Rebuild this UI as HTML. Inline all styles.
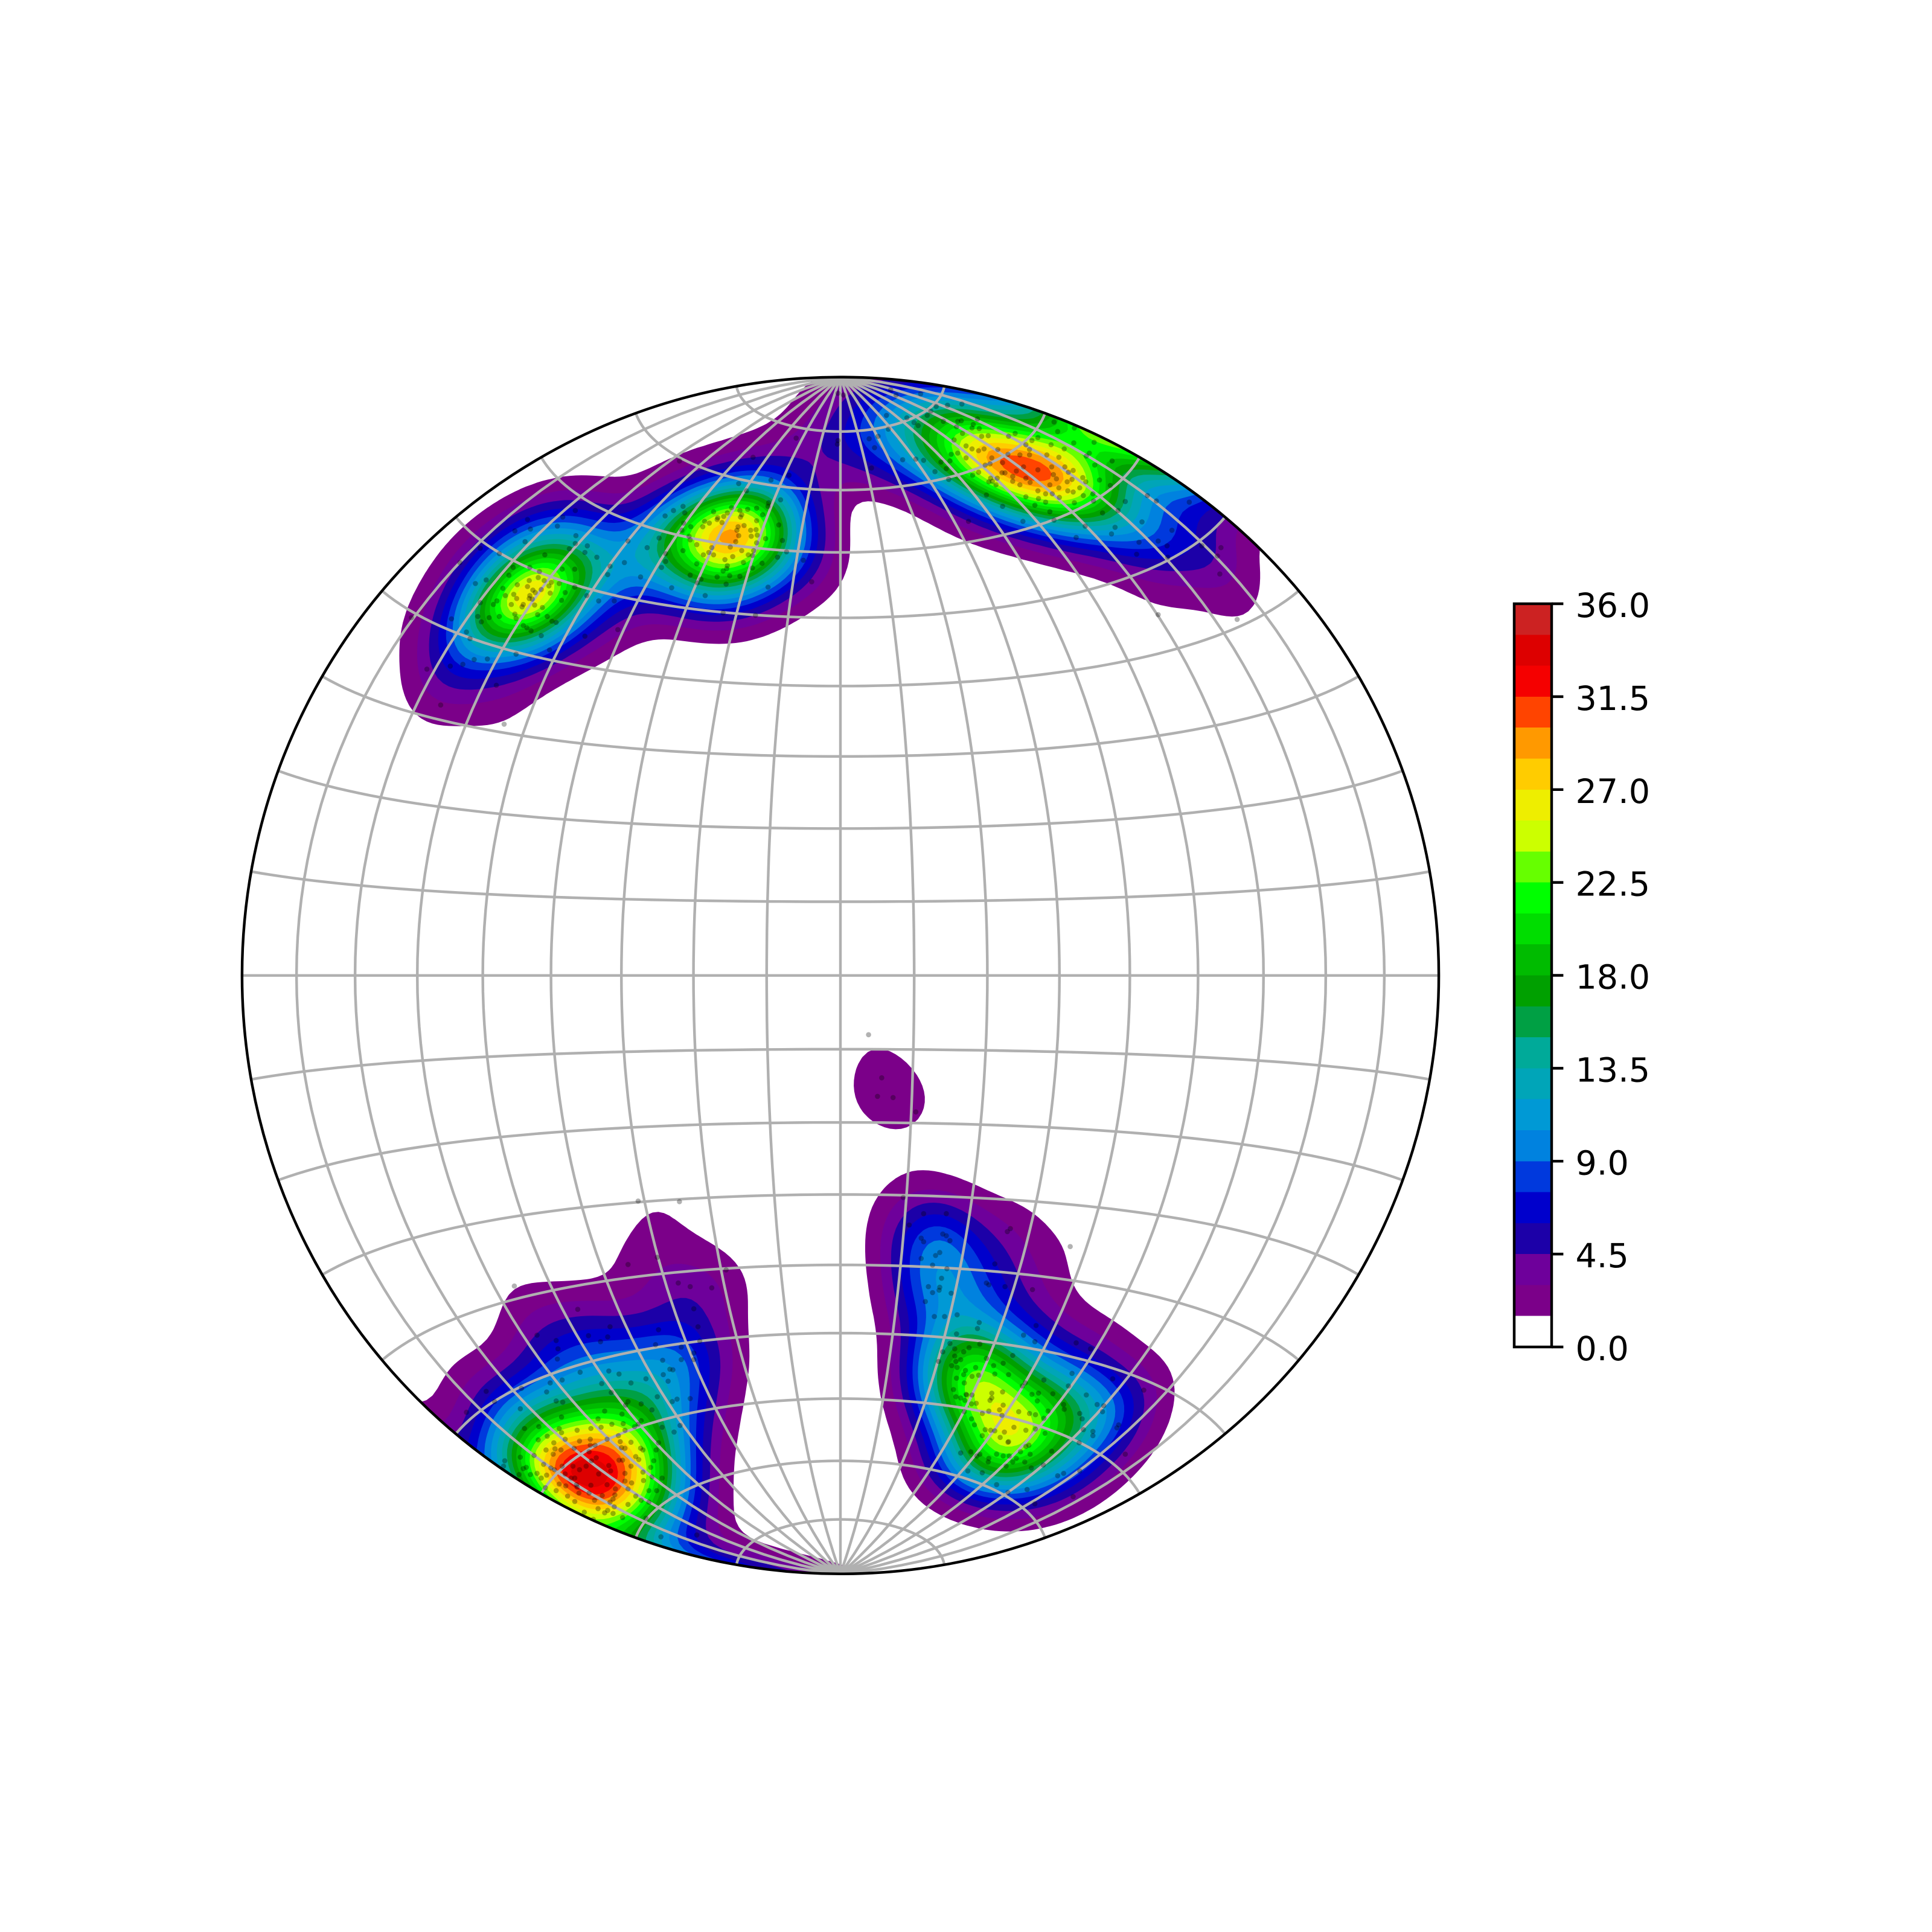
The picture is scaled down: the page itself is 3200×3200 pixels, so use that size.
<!DOCTYPE html>
<html lang="en">
<head>
<meta charset="utf-8">
<title>Stereonet density plot</title>
<style>
html,body{margin:0;padding:0;background:#fff;}
svg{display:block;}
text{font-family:"DejaVu Sans","Liberation Sans",sans-serif;font-size:55.5px;fill:#000;}
</style>
</head>
<body>
<svg id="chart" xmlns="http://www.w3.org/2000/svg" width="3200" height="3200" viewBox="0 0 3200 3200">
<defs><clipPath id="net-clip"><circle cx="1392" cy="1615.7" r="991.1"></circle></clipPath></defs>
<rect width="3200" height="3200" fill="#fff"></rect>
<g id="contours" clip-path="url(#net-clip)"></g>
<g id="grid" fill="none" stroke="#b0b0b0" stroke-width="4.44" clip-path="url(#net-clip)"></g>
<g id="poles" clip-path="url(#net-clip)"></g>
<circle cx="1392" cy="1615.7" r="991.1" fill="none" stroke="#000" stroke-width="4.44"></circle>
<g id="colorbar"></g>
</svg>
<script>
// Density levels and colour bar
const levels = [0,1.5,3,4.5,6,7.5,9,10.5,12,13.5,15,16.5,18,19.5,21,22.5,24,25.5,27,28.5,30,31.5,33,34.5,36];
const bandColors = ['#ffffff','#7b0089','#6e009b','#1c00a8','#0000cc','#0039dd','#0082df','#0099d5','#00a5b8','#00aa99','#00a044','#00a000','#00bb00','#00dd00','#00ff00','#66ff00','#ccff00','#eeee00','#ffcc00','#ff9900','#ff4400','#f50000','#dd0000','#cc2222'];
const colorbarTicks = [0,4.5,9,13.5,18,22.5,27,31.5,36];
const colorbarTickLabels = ['0.0','4.5','9.0','13.5','18.0','22.5','27.0','31.5','36.0'];
const meridianDegrees = [-80,-70,-60,-50,-40,-30,-20,-10,0,10,20,30,40,50,60,70,80];
const parallelDegrees = [-80,-70,-60,-50,-40,-30,-20,-10,0,10,20,30,40,50,60,70,80];
const kernelSigma = 3;
const sourcePoleCount = 760;
// Poles in net coordinates (east, north), net radius = 1
const polePoints = [
[-.004,.973],[.005,.97],
[-.540,.653],[-.523,.650],[-.514,.644],[-.495,.660],[-.483,.657],[-.487,.651],[-.546,.637],[-.519,.635],[-.541,.630],[-.515,.629],[-.485,.639],[-.532,.616],[-.511,.619],[-.498,.615],[-.506,.603],[-.544,.604],[-.542,.597],[-.587,.598],[-.600,.591],[-.606,.600],[-.524,.581],[-.517,.576],[-.482,.592],[-.475,.590],[-.500,.568],[-.574,.626],[-.602,.623],[-.564,.647],[-.554,.669],[-.547,.682],[-.519,.682],[-.503,.675],[-.465,.679],[-.444,.679],[-.494,.703],[-.444,.649],[-.466,.627],[-.424,.635],[-.404,.626],[-.378,.626],[-.453,.713],[-.443,.722],[-.423,.718],[-.427,.707],[-.407,.699],[-.442,.735],[-.473,.751],[-.518,.746],[-.544,.743],[-.527,.725],[-.570,.705],[-.592,.661],[-.610,.655],[-.650,.596],[-.625,.574],[-.619,.563],[-.612,.528],[-.590,.529],[-.542,.537],[-.631,.520],[-.652,.517],[-.691,.512],[-.668,.452],[-.575,.485],[-.427,.567],[-.372,.578],[-.486,.544],[-.717,.598],[-.636,.690],[-.602,.714],[-.523,.762],[-.443,.777],[-.464,.766],[-.562,.420],
[-.51,.64],[-.55,.62],[-.56,.635],[-.505,.665],[-.47,.655],[-.52,.66],[-.57,.60],[-.53,.585],[-.49,.60],[-.46,.64],[-.58,.62],[-.52,.63],[-.50,.645],[-.53,.62],
[-.182,.782],[-.168,.777],[-.155,.779],[-.189,.773],[-.212,.775],[-.195,.767],[-.206,.762],[-.227,.759],[-.219,.756],[-.198,.757],[-.167,.766],[-.171,.750],[-.161,.752],[-.173,.744],[-.150,.744],[-.141,.745],[-.139,.736],[-.149,.734],[-.140,.723],[-.175,.725],[-.184,.716],[-.165,.710],[-.212,.703],[-.220,.707],[-.229,.703],[-.253,.734],[-.251,.728],[-.193,.695],[-.154,.703],[-.147,.702],[-.162,.690],[-.189,.685],[-.240,.688],[-.263,.710],[-.265,.744],[-.262,.756],[-.260,.773],[-.263,.784],[-.279,.777],[-.293,.768],[-.140,.781],[-.120,.790],[-.121,.784],[-.100,.795],[-.103,.753],[-.097,.727],[-.090,.708],[-.105,.699],[-.131,.689],[-.147,.681],[-.168,.667],[-.185,.668],[-.196,.676],[-.206,.666],[-.191,.654],[-.233,.662],[-.239,.656],[-.251,.669],[-.292,.705],[-.292,.692],[-.299,.682],[-.303,.731],[-.323,.715],[-.355,.726],[-.361,.690],[-.385,.684],[-.389,.670],[-.334,.666],[-.282,.648],[-.226,.635],[-.121,.649],[-.062,.694],[-.048,.658],[-.196,.606],[-.142,.602],[-.116,.828],[-.170,.822],[-.157,.810],[-.146,.866],[-.086,.836],[-.074,.898],[-.005,.888],[-.269,.860],
[-.14,.76],[-.18,.70],[-.215,.715],[-.145,.71],[-.205,.765],[-.165,.77],[-.24,.72],[-.125,.73],[-.19,.68],[-.25,.75],[-.13,.77],[-.23,.75],[-.17,.735],
[.280,.871],[.300,.870],[.316,.879],[.316,.870],[.310,.887],[.320,.894],[.330,.899],[.292,.906],[.281,.901],[.247,.902],[.236,.901],[.204,.906],[.194,.917],[.220,.915],[.232,.914],[.222,.921],[.229,.930],[.196,.926],[.202,.927],[.172,.926],[.123,.924],[.130,.919],[.111,.932],[.145,.936],[.151,.943],[.160,.951],[.179,.953],[.203,.955],[.134,.972],[.093,.970],[.084,.979],[.077,.936],[.080,.913],[.048,.897],[.063,.901],[.057,.882],[-.004,.894],[.052,.848],[.104,.862],[.126,.863],[.139,.861],[.168,.858],[.177,.847],[.158,.842],[.181,.829],[.221,.836],[.231,.841],[.251,.831],[.248,.825],[.254,.826],[.262,.831],[.275,.840],[.288,.834],[.288,.826],[.294,.843],[.306,.850],[.310,.831],[.317,.824],[.353,.850],[.356,.837],[.361,.830],[.375,.850],[.381,.841],[.389,.844],[.387,.829],[.379,.825],[.405,.832],[.389,.808],[.406,.802],[.422,.805],[.366,.799],[.354,.805],[.343,.805],[.331,.797],[.343,.791],[.325,.786],[.391,.790],[.423,.793],[.350,.775],[.244,.803],[.271,.784],[.305,.759],[.357,.761],[.409,.751],[.394,.732],[.214,.759],[.242,.853],[.231,.877],[.263,.879],[.253,.865],[.271,.857],[.185,.871],[.196,.873],[.183,.860],[.352,.887],[.374,.880],[.365,.866],[.390,.890],[.424,.891],[.357,.925],[.363,.909],[.391,.915],[.411,.868],[.416,.873],[.425,.853],[.433,.828],[.451,.819],[.454,.860],[.476,.792],[.464,.777],[.438,.773],[.513,.802],[.528,.793],[.583,.791],[.504,.758],[.459,.749],[.453,.738],[.554,.744],[.499,.724],[.531,.726],[.546,.718],[.495,.704],[.547,.699],[.604,.718],[.636,.715],[.630,.701],[.634,.671],[.531,.603],[.663,.595],
[.25,.855],[.27,.84],[.30,.82],[.35,.82],[.33,.81],[.365,.815],[.24,.88],[.22,.88],[.31,.80],[.38,.81],[.21,.865],[.26,.82],[.345,.87],[.19,.895],[.21,.885],[.40,.815],[.41,.825],[.33,.845],
[-.404,-.833],[-.417,-.852],[-.390,-.851],[-.436,-.826],[-.447,-.820],[-.425,-.820],[-.408,-.806],[-.387,-.819],[-.384,-.828],[-.416,-.811],[-.420,-.796],[-.460,-.833],[-.444,-.840],[-.441,-.851],[-.459,-.853],[-.437,-.865],[-.456,-.870],[-.444,-.879],[-.411,-.877],[-.398,-.869],[-.376,-.858],[-.377,-.868],[-.355,-.858],[-.360,-.832],[-.349,-.848],[-.364,-.810],[-.385,-.880],[-.378,-.888],[-.405,-.891],[-.389,-.894],[-.394,-.898],[-.380,-.899],[-.428,-.897],[-.364,-.906],[-.355,-.884],[-.342,-.870],[-.333,-.877],[-.320,-.880],[-.307,-.861],[-.320,-.861],[-.329,-.844],[-.315,-.838],[-.298,-.840],[-.317,-.822],[-.312,-.811],[-.342,-.804],[-.337,-.809],[-.330,-.793],[-.334,-.790],[-.366,-.789],[-.360,-.790],[-.368,-.779],[-.371,-.769],[-.308,-.793],[-.304,-.781],[-.298,-.755],[-.278,-.763],[-.268,-.752],[-.338,-.750],[-.344,-.754],[-.333,-.744],[-.363,-.749],[-.382,-.750],[-.365,-.733],[-.394,-.728],[-.405,-.741],[-.417,-.757],[-.418,-.775],[-.436,-.778],[-.418,-.785],[-.467,-.793],[-.477,-.791],[-.492,-.793],[-.479,-.781],[-.505,-.776],[-.466,-.764],[-.470,-.757],[-.466,-.738],[-.504,-.754],[-.528,-.757],[-.512,-.802],[-.535,-.805],[-.496,-.817],[-.484,-.823],[-.478,-.826],[-.491,-.835],[-.507,-.832],[-.518,-.834],[-.525,-.822],[-.530,-.824],[-.537,-.834],[-.561,-.811],[-.563,-.820],[-.493,-.856],[-.475,-.861],[-.413,-.909],[-.325,-.907],[-.300,-.938],[-.240,-.935],[-.535,-.724],[-.475,-.711],[-.464,-.713],[-.491,-.696],[-.383,-.697],[-.399,-.682],[-.350,-.681],[-.325,-.674],[-.333,-.716],[-.315,-.726],[-.359,-.718],[-.355,-.712],[-.306,-.704],[-.281,-.712],[-.273,-.708],[-.251,-.707],[-.288,-.678],[-.296,-.667],[-.285,-.658],[-.280,-.659],[-.370,-.666],[-.387,-.661],[-.435,-.663],[-.465,-.676],[-.485,-.681],[-.533,-.690],[-.578,-.712],[-.592,-.695],[-.625,-.730],[-.473,-.641],[-.472,-.624],[-.475,-.610],[-.507,-.601],[-.421,-.602],[-.401,-.612],[-.389,-.604],[-.385,-.587],[-.304,-.592],[-.309,-.617],[-.297,-.643],[-.266,-.642],[-.266,-.621],[-.245,-.631],[-.245,-.642],[-.235,-.611],[-.238,-.587],[-.245,-.557],[-.439,-.558],[-.271,-.514],[-.251,-.520],[-.215,-.522],[-.191,-.492],[-.306,-.471],[-.355,-.483],[-.545,-.519],[-.338,-.377],[-.269,-.378],
[-.465,-.82],[-.37,-.81],[-.47,-.85],[-.41,-.785],[-.36,-.845],[-.38,-.875],[-.445,-.79],[-.35,-.82],[-.48,-.80],[-.39,-.775],[-.46,-.775],[-.35,-.78],[-.50,-.84],[-.33,-.83],[-.36,-.76],[-.44,-.76],[-.40,-.755],[-.49,-.77],
[-.44,-.855],[-.42,-.865],[-.45,-.84],
[.047,-.099],[.069,-.171],[.062,-.202],[.088,-.204],[.126,-.228],[.384,-.453],[.105,-.371],[.139,-.398],[.177,-.398],[.115,-.417],[.135,-.439],[.139,-.445],[.171,-.432],[.177,-.435],[.183,-.443],[.279,-.428],[.284,-.423],[.135,-.473],[.159,-.468],[.166,-.463],[.154,-.484],[.178,-.490],[.169,-.506],[.147,-.520],[.166,-.521],[.165,-.526],[.154,-.530],[.185,-.531],[.142,-.545],[.157,-.570],[.174,-.570],[.195,-.567],[.258,-.482],[.244,-.514],[.248,-.517],[.275,-.520],[.321,-.525],[.232,-.580],[.229,-.590],[.194,-.599],[.183,-.615],[.171,-.629],[.164,-.645],[.191,-.624],[.215,-.622],[.206,-.629],[.233,-.616],[.191,-.636],[.201,-.642],[.193,-.645],[.186,-.652],[.195,-.655],[.209,-.660],[.206,-.667],[.226,-.655],[.231,-.668],[.244,-.640],[.256,-.652],[.258,-.666],[.272,-.648],[.281,-.667],[.288,-.635],[.306,-.601],[.325,-.612],[.327,-.585],[.394,-.614],[.418,-.624],[.194,-.673],[.207,-.681],[.189,-.692],[.193,-.704],[.201,-.706],[.208,-.710],[.211,-.701],[.220,-.701],[.219,-.716],[.227,-.715],[.207,-.729],[.237,-.732],[.248,-.728],[.253,-.698],[.253,-.706],[.271,-.696],[.272,-.718],[.266,-.726],[.298,-.729],[.304,-.686],[.309,-.681],[.316,-.732],[.326,-.734],[.329,-.711],[.331,-.698],[.340,-.676],[.355,-.699],[.347,-.728],[.373,-.717],[.374,-.725],[.381,-.686],[.387,-.665],[.400,-.732],[.404,-.741],[.406,-.759],[.399,-.781],[.411,-.701],[.429,-.717],[.440,-.719],[.438,-.729],[.455,-.674],[.507,-.693],[.465,-.751],[.462,-.756],[.422,-.762],[.422,-.769],[.326,-.758],[.342,-.765],[.353,-.795],[.317,-.800],[.308,-.813],[.310,-.787],[.315,-.785],[.301,-.796],[.294,-.807],[.288,-.813],[.282,-.803],[.272,-.803],[.261,-.800],[.277,-.820],[.248,-.807],[.247,-.813],[.233,-.800],[.228,-.803],[.218,-.796],[.201,-.798],[.213,-.828],[.237,-.831],[.261,-.851],[.280,-.864],[.312,-.859],[.325,-.883],[.319,-.823],[.339,-.818],[.363,-.836],[.373,-.832],[.400,-.828],[.389,-.871],[.476,-.800],[.242,-.759],[.251,-.760],[.258,-.761],[.267,-.772],[.281,-.779],[.274,-.763],[.224,-.751],[.219,-.741],[.237,-.769],
[.22,-.67],[.31,-.76],[.34,-.74],[.32,-.70],[.28,-.78],[.21,-.70],[.25,-.71],[.27,-.735],[.29,-.755]
];

// Axis functions
const NS = 'http://www.w3.org/2000/svg';
const netCx = 1392, netCy = 1615.7, netR = 991.1;
const sx = x => netCx + netR * x;
const sy = y => netCy - netR * y;
const barTop = 1000, barBottom = 2231, barLeft = 2508, barRight = 2570;
const barY = v => barBottom - (barBottom - barTop) * v / levels[levels.length - 1];

function project(latDeg, lonDeg) {
  const la = latDeg * Math.PI / 180, lo = lonDeg * Math.PI / 180;
  const d = Math.sqrt(1 + Math.cos(la) * Math.cos(lo));
  return [Math.cos(la) * Math.sin(lo) / d, Math.sin(la) / d];
}
function toVector(x, y) {
  const r2 = x * x + y * y;
  const s = Math.sqrt(Math.max(0, 2 - r2));
  return [1 - r2, x * s, y * s];
}

// Density on a regular net grid (exponential Kamb kernel over the poles)
const cells = 230, span = 1.06;
const nodes = cells + 1;
const stepSize = 2 * span / cells;
const vectors = polePoints.map(p => toVector(p[0], p[1]));
const count = vectors.length;
const kernelF = 2 * (1 + sourcePoleCount / (kernelSigma * kernelSigma));
const kernelUnits = Math.sqrt(sourcePoleCount * (kernelF / 2 - 1) / (kernelF * kernelF));
const field = new Float64Array(nodes * nodes);
for (let j = 1; j < nodes - 1; j++) {
  const y = -span + j * stepSize;
  for (let i = 1; i < nodes - 1; i++) {
    const x = -span + i * stepSize;
    if (x * x + y * y > 1.08) continue;
    const c = toVector(x, y);
    let sum = 0;
    for (let k = 0; k < count; k++) {
      const v = vectors[k];
      const dot = Math.abs(c[0] * v[0] + c[1] * v[1] + c[2] * v[2]);
      const e = kernelF * (dot - 1);
      if (e > -12) sum += Math.exp(e);
    }
    field[j * nodes + i] = sum / kernelUnits;
  }
}

// Marching squares: closed loops of the region field >= level
function contourPath(level) {
  const links = new Map();
  const points = new Map();
  const hEdge = (i, j) => 2 * (j * nodes + i);
  const vEdge = (i, j) => 2 * (j * nodes + i) + 1;
  const at = (i, j) => field[j * nodes + i];
  function cross(id, i, j, horizontal) {
    if (!points.has(id)) {
      const a = at(i, j), b = horizontal ? at(i + 1, j) : at(i, j + 1);
      const t = (level - a) / (b - a);
      const x = -span + (i + (horizontal ? t : 0)) * stepSize;
      const y = -span + (j + (horizontal ? 0 : t)) * stepSize;
      points.set(id, sx(x).toFixed(1) + ' ' + sy(y).toFixed(1));
    }
    return id;
  }
  function link(a, b) {
    if (!links.has(a)) links.set(a, []);
    if (!links.has(b)) links.set(b, []);
    links.get(a).push(b);
    links.get(b).push(a);
  }
  for (let j = 0; j < nodes - 1; j++) {
    for (let i = 0; i < nodes - 1; i++) {
      const c = (at(i, j) >= level ? 1 : 0) | (at(i + 1, j) >= level ? 2 : 0) | (at(i + 1, j + 1) >= level ? 4 : 0) | (at(i, j + 1) >= level ? 8 : 0);
      if (c === 0 || c === 15) continue;
      const S = () => cross(hEdge(i, j), i, j, true);
      const N = () => cross(hEdge(i, j + 1), i, j + 1, true);
      const W = () => cross(vEdge(i, j), i, j, false);
      const E = () => cross(vEdge(i + 1, j), i + 1, j, false);
      switch (c) {
        case 1: case 14: link(W(), S()); break;
        case 2: case 13: link(S(), E()); break;
        case 3: case 12: link(W(), E()); break;
        case 4: case 11: link(E(), N()); break;
        case 6: case 9: link(S(), N()); break;
        case 7: case 8: link(W(), N()); break;
        case 5: link(W(), N()); link(S(), E()); break;
        case 10: link(W(), S()); link(E(), N()); break;
      }
    }
  }
  const seen = new Set();
  let d = '';
  for (const start of links.keys()) {
    if (seen.has(start)) continue;
    let prev = null, cur = start, first = true;
    while (cur !== undefined && !seen.has(cur)) {
      seen.add(cur);
      d += (first ? 'M' : 'L') + points.get(cur);
      first = false;
      const nb = links.get(cur);
      const next = nb.find(n => n !== prev && !seen.has(n));
      prev = cur;
      cur = next;
    }
    d += 'Z';
  }
  return d;
}

// Filled contour bands, stacked from low to high
const contourLayer = document.getElementById('contours');
for (let b = 1; b < bandColors.length; b++) {
  const d = contourPath(levels[b]);
  if (!d) continue;
  const band = document.createElementNS(NS, 'path');
  band.setAttribute('d', d);
  band.setAttribute('fill', bandColors[b]);
  band.setAttribute('fill-rule', 'evenodd');
  
  
  contourLayer.appendChild(band);
}

// Graticule
const gridLayer = document.getElementById('grid');
function addGridLine(coords, name) {
  const line = document.createElementNS(NS, 'polyline');
  line.setAttribute('points', coords.map(c => sx(c[0]).toFixed(1) + ',' + sy(c[1]).toFixed(1)).join(' '));
  
  
  gridLayer.appendChild(line);
}
meridianDegrees.forEach(lon => {
  const coords = [];
  for (let lat = -90; lat <= 90; lat += 2) coords.push(project(lat, lon));
  addGridLine(coords, 'meridian-gridline');
});
parallelDegrees.forEach(lat => {
  const coords = [];
  for (let lon = -90; lon <= 90; lon += 2) coords.push(project(lat, lon));
  addGridLine(coords, 'parallel-gridline');
});

// Pole points
const poleLayer = document.getElementById('poles');
polePoints.forEach(p => {
  const dot = document.createElementNS(NS, 'circle');
  dot.setAttribute('cx', sx(p[0]).toFixed(1));
  dot.setAttribute('cy', sy(p[1]).toFixed(1));
  dot.setAttribute('r', '4.3');
  dot.setAttribute('fill', '#000');
  dot.setAttribute('fill-opacity', '0.3');
  
  
  poleLayer.appendChild(dot);
});

// Colour bar
const bar = document.getElementById('colorbar');
bandColors.forEach((color, b) => {
  const rect = document.createElementNS(NS, 'rect');
  rect.setAttribute('x', barLeft);
  rect.setAttribute('width', barRight - barLeft);
  rect.setAttribute('y', barY(levels[b + 1]).toFixed(2));
  rect.setAttribute('height', (barY(levels[b]) - barY(levels[b + 1])).toFixed(2));
  rect.setAttribute('fill', color);
  rect.setAttribute('shape-rendering', 'crispEdges');
  
  
  bar.appendChild(rect);
});
const frame = document.createElementNS(NS, 'rect');
frame.setAttribute('x', barLeft);
frame.setAttribute('y', barTop);
frame.setAttribute('width', barRight - barLeft);
frame.setAttribute('height', barBottom - barTop);
frame.setAttribute('fill', 'none');
frame.setAttribute('stroke', '#000');
frame.setAttribute('stroke-width', '4.44');


bar.appendChild(frame);
colorbarTicks.forEach((value, t) => {
  const y = barY(value);
  const tick = document.createElementNS(NS, 'line');
  tick.setAttribute('x1', barRight);
  tick.setAttribute('x2', barRight + 19.4);
  tick.setAttribute('y1', y.toFixed(1));
  tick.setAttribute('y2', y.toFixed(1));
  tick.setAttribute('stroke', '#000');
  tick.setAttribute('stroke-width', '4.44');
  
  
  bar.appendChild(tick);
  const label = document.createElementNS(NS, 'text');
  label.setAttribute('x', barRight + 39.5);
  label.setAttribute('y', (y + 22).toFixed(1));
  label.textContent = colorbarTickLabels[t];
  
  
  bar.appendChild(label);
});
</script>
</body>
</html>
